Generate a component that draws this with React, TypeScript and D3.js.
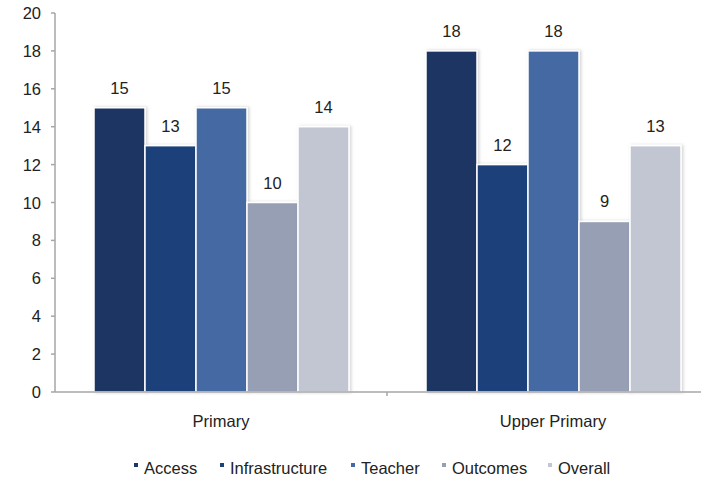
import React from "react";
import * as d3 from "d3";

const categories = ["Primary", "Upper Primary"];
const series = ["Access", "Infrastructure", "Teacher", "Outcomes", "Overall"];
const primaryValues = [15, 13, 15, 10, 14];
const upperPrimaryValues = [18, 12, 18, 9, 13];
const yTicks = [0, 2, 4, 6, 8, 10, 12, 14, 16, 18, 20];
const colors = ["#1e3664", "#1a4179", "#4569a3", "#979fb5", "#c2c6d3"];

const W = 701, H = 479;
const left = 55, right = 719, top = 13, bottom = 392;

export default function App() {
  const data = [primaryValues, upperPrimaryValues];
  const x0 = d3.scaleBand().domain(categories).range([left, right]).paddingInner(0).paddingOuter(0);
  const x1 = d3.scaleBand().domain(series).range([39, 39 + 255]);
  const y = d3.scaleLinear().domain([0, 20]).range([bottom, top]);
  const font = "'Liberation Sans', Arial, sans-serif";
  const fs = 16.5;
  const legendX = [134, 220, 351, 442, 548];
  return (
    <svg width={W} height={H} style={{ position: "absolute", left: 0, top: 0, background: "#fff" }}>
      <defs>
        <filter id="sh" x="-10%" y="-10%" width="130%" height="130%">
          <feDropShadow dx="1.5" dy="0" stdDeviation="1.5" floodColor="#000" floodOpacity="0.18" />
        </filter>
      </defs>
      {categories.map((c, ci) => (
        <g key={c} transform={`translate(${x0(c)},0)`}>
          {series.map((s, si) => {
            const v = data[ci][si];
            const bx = x1(s)!;
            const bw = x1.bandwidth();
            return (
              <g key={s}>
                <rect x={bx} y={y(v)} width={bw} height={y(0) - y(v)} fill={colors[si]} stroke="#fff" strokeWidth={1.5} filter="url(#sh)" />
                <text x={bx + bw / 2} y={y(v) - 14} textAnchor="middle" fontFamily={font} fontSize={fs} fill="#222">{v}</text>
              </g>
            );
          })}
          <text x={x0.bandwidth() / 2} y={427} textAnchor="middle" fontFamily={font} fontSize={fs} fill="#222">{c}</text>
        </g>
      ))}
      <line x1={left} x2={left} y1={top} y2={bottom} stroke="#a6a6a6" strokeWidth={1.5} />
      <line x1={left} x2={right} y1={bottom} y2={bottom} stroke="#a6a6a6" strokeWidth={1.5} />
      {yTicks.map(t => (
        <g key={t}>
          <line x1={left - 4} x2={left} y1={y(t)} y2={y(t)} stroke="#a6a6a6" strokeWidth={1.5} />
          <text x={left - 14} y={y(t) + 6} textAnchor="end" fontFamily={font} fontSize={fs} fill="#222">{t}</text>
        </g>
      ))}
      {[left + x0.bandwidth()].map(px => (
        <line key={px} x1={px} x2={px} y1={bottom} y2={bottom + 4} stroke="#a6a6a6" strokeWidth={1.5} />
      ))}
      {series.map((s, i) => (
        <g key={s}>
          <rect x={legendX[i]} y={463} width={4} height={4} fill={colors[i]} />
          <text x={legendX[i] + 10} y={474} fontFamily={font} fontSize={fs} fill="#222">{s}</text>
        </g>
      ))}
    </svg>
  );
}
